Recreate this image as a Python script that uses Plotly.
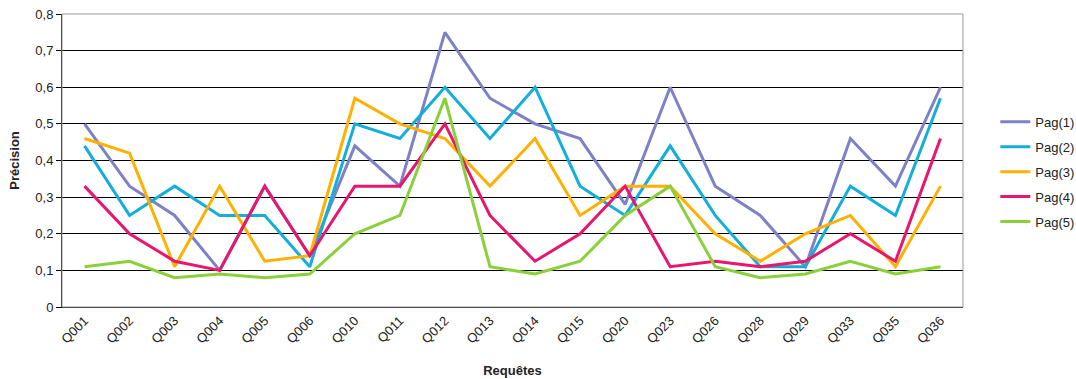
import plotly.graph_objects as go

# Requêtes évaluées
queries = ["Q001", "Q002", "Q003", "Q004", "Q005", "Q006", "Q010", "Q011", "Q012", "Q013",
           "Q014", "Q015", "Q020", "Q023", "Q026", "Q028", "Q029", "Q033", "Q035", "Q036"]

# Précision par page de résultats
pag1 = [0.50, 0.33, 0.25, 0.10, 0.33, 0.14, 0.44, 0.33, 0.75, 0.57,
        0.50, 0.46, 0.28, 0.60, 0.33, 0.25, 0.11, 0.46, 0.33, 0.60]
pag2 = [0.44, 0.25, 0.33, 0.25, 0.25, 0.11, 0.50, 0.46, 0.60, 0.46,
        0.60, 0.33, 0.25, 0.44, 0.25, 0.11, 0.11, 0.33, 0.25, 0.57]
pag3 = [0.46, 0.42, 0.11, 0.33, 0.125, 0.14, 0.57, 0.50, 0.46, 0.33,
        0.46, 0.25, 0.33, 0.33, 0.20, 0.125, 0.20, 0.25, 0.11, 0.33]
pag4 = [0.33, 0.20, 0.125, 0.10, 0.33, 0.14, 0.33, 0.33, 0.50, 0.25,
        0.125, 0.20, 0.33, 0.11, 0.125, 0.11, 0.125, 0.20, 0.125, 0.46]
pag5 = [0.11, 0.125, 0.08, 0.09, 0.08, 0.09, 0.20, 0.25, 0.57, 0.11,
        0.09, 0.125, 0.25, 0.33, 0.11, 0.08, 0.09, 0.125, 0.09, 0.11]

series = [
    ("Pag(1)", pag1, "#7F81C6"),
    ("Pag(2)", pag2, "#14AEDC"),
    ("Pag(3)", pag3, "#FFB000"),
    ("Pag(4)", pag4, "#E8166C"),
    ("Pag(5)", pag5, "#8AD03A"),
]

font_family = "Liberation Sans, Arial, sans-serif"

fig = go.Figure()
for name, values, color in series:
    fig.add_trace(go.Scatter(
        x=queries, y=values, name=name, mode="lines",
        line=dict(color=color, width=3), legendgroup=name,
    ))

fig.update_layout(
    width=1076, height=379,
    margin=dict(l=62, r=113, t=14, b=72, autoexpand=False),
    paper_bgcolor="white", plot_bgcolor="white",
    separators=", ",
    font=dict(family=font_family, size=13, color="#222222"),
    showlegend=True,
    legend=dict(
        xref="container", yref="container",
        x=0.925, y=0.718, xanchor="left", yanchor="top",
        font=dict(size=13, color="#222222"),
        traceorder="grouped", tracegroupgap=5,
        bgcolor="rgba(0,0,0,0)",
    ),
    # grey frame on top and right of the plotting area
    shapes=[dict(
        type="rect", xref="paper", yref="paper", x0=0, x1=1, y0=0, y1=1,
        line=dict(color="#9A9A9A", width=1), layer="above",
    )],
)

fig.update_xaxes(
    type="category", range=[-0.5, len(queries) - 0.5], tickangle=-45, showgrid=False,
    showline=True, linecolor="black", linewidth=1, automargin=False,
    ticks="", tickfont=dict(size=13),
    title=dict(text="<b>Requêtes</b>", font=dict(size=13), standoff=20),
)
fig.update_yaxes(
    range=[0, 0.8], dtick=0.1, tickformat=".1~f",
    showgrid=True, gridcolor="black", gridwidth=1,
    showline=True, linecolor="black", linewidth=1, automargin=False,
    ticks="outside", ticklen=5, tickcolor="black",
    zeroline=False, tickfont=dict(size=13),
    title=dict(text="<b>Précision</b>", font=dict(size=13), standoff=12),
)

fig.write_html("out.html")
